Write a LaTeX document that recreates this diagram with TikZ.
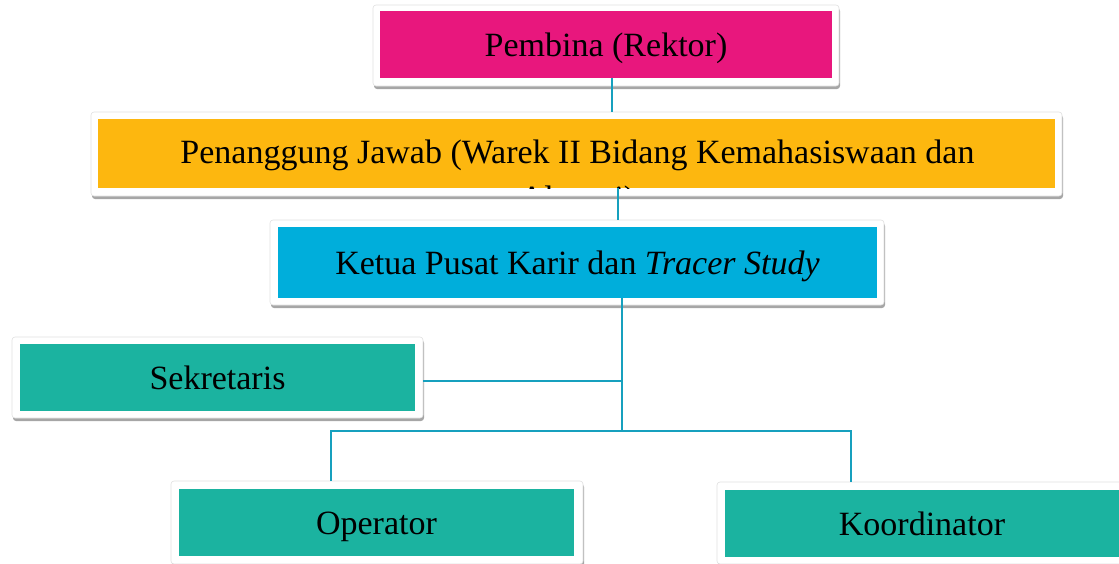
\documentclass[tikz,border=0pt]{standalone}
\usepackage{fontspec}
\setmainfont{Liberation Serif}
\usetikzlibrary{shadows}
\definecolor{cpink}{RGB}{232,23,125}
\definecolor{corange}{RGB}{253,183,15}
\definecolor{cblue}{RGB}{0,174,219}
\definecolor{cteal}{RGB}{27,179,160}
\definecolor{cline}{RGB}{22,160,190}
\tikzset{
  boxframe/.style={draw=black!12, line width=0.6pt, fill=white, rounded corners=3pt, inner sep=0pt, outer sep=0pt,
    drop shadow={shadow xshift=1pt, shadow yshift=-3pt, opacity=0.35, fill=black}},
  fillbox/.style={inner sep=0pt, outer sep=0pt, text height=30pt, text depth=6pt, font=\fontsize{34}{41}\selectfont},
  conn/.style={draw=cline, line width=2pt},
}
\begin{document}
\begin{tikzpicture}[x=1pt,y=-1pt]
\useasboundingbox (0,0) rectangle (1119,563);
% Pembina
\node[boxframe, minimum width=466pt, minimum height=81pt] (pembinaF) at (606,45.5) {};
\node[fillbox, fill=cpink, minimum width=452pt, minimum height=67pt] (pembina) at (606,44.5) {Pembina (Rektor)};
% Penanggung jawab
\node[boxframe, minimum width=971pt, minimum height=84pt] (pjF) at (576.5,154) {};
\node[fillbox, fill=corange, minimum width=957pt, minimum height=69pt] (pj) at (576.5,153.5) {};
\begin{scope}
\clip (pj.south west) rectangle (pj.north east);
\node[anchor=base, inner sep=0pt, font=\fontsize{34}{41}\selectfont] (pjA) at (577.5,163) {Penanggung Jawab (Warek II Bidang Kemahasiswaan dan};
\node[anchor=base, inner sep=0pt, font=\fontsize{34}{41}\selectfont] (pjB) at (577.5,209) {Alumni)};
\end{scope}
% Ketua
\node[boxframe, minimum width=614pt, minimum height=85pt] (ketuaF) at (577,262.5) {};
\node[fillbox, fill=cblue, minimum width=599pt, minimum height=71pt] (ketua) at (577.5,262.5) {Ketua Pusat Karir dan \textit{Tracer Study}};
% Sekretaris
\node[boxframe, minimum width=411pt, minimum height=81pt] (sekF) at (217.5,377.5) {};
\node[fillbox, fill=cteal, minimum width=395pt, minimum height=67pt] (sek) at (217.5,377.5) {Sekretaris};
% Operator
\node[boxframe, minimum width=412pt, minimum height=83pt] (opF) at (377,522.5) {};
\node[fillbox, fill=cteal, minimum width=395pt, minimum height=67pt] (op) at (376.5,522.5) {Operator};
% Koordinator
\node[boxframe, minimum width=410pt, minimum height=82pt] (koF) at (922,523) {};
\node[fillbox, fill=cteal, minimum width=394pt, minimum height=67pt] (ko) at (922,523.5) {Koordinator};
% connectors
\coordinate (hub) at (622,431);
\coordinate (bl) at (331,431);
\coordinate (br) at (851,431);
\draw[conn] ([xshift=6pt]pembina.south) -- ([xshift=6pt]pembina.south |- pjF.north);
\draw[conn] ([xshift=41.5pt]pj.south) -- ([xshift=41.5pt]pj.south |- ketuaF.north);
\draw[conn] ([xshift=44.5pt]ketua.south) -- (hub);
\draw[conn] ([yshift=-3.5pt]sekF.east) -- ([yshift=-3.5pt]sekF.east -| hub);
\draw[conn] (bl |- opF.north) -- (bl) -- (br) -- (br |- koF.north);
\end{tikzpicture}
\end{document}
